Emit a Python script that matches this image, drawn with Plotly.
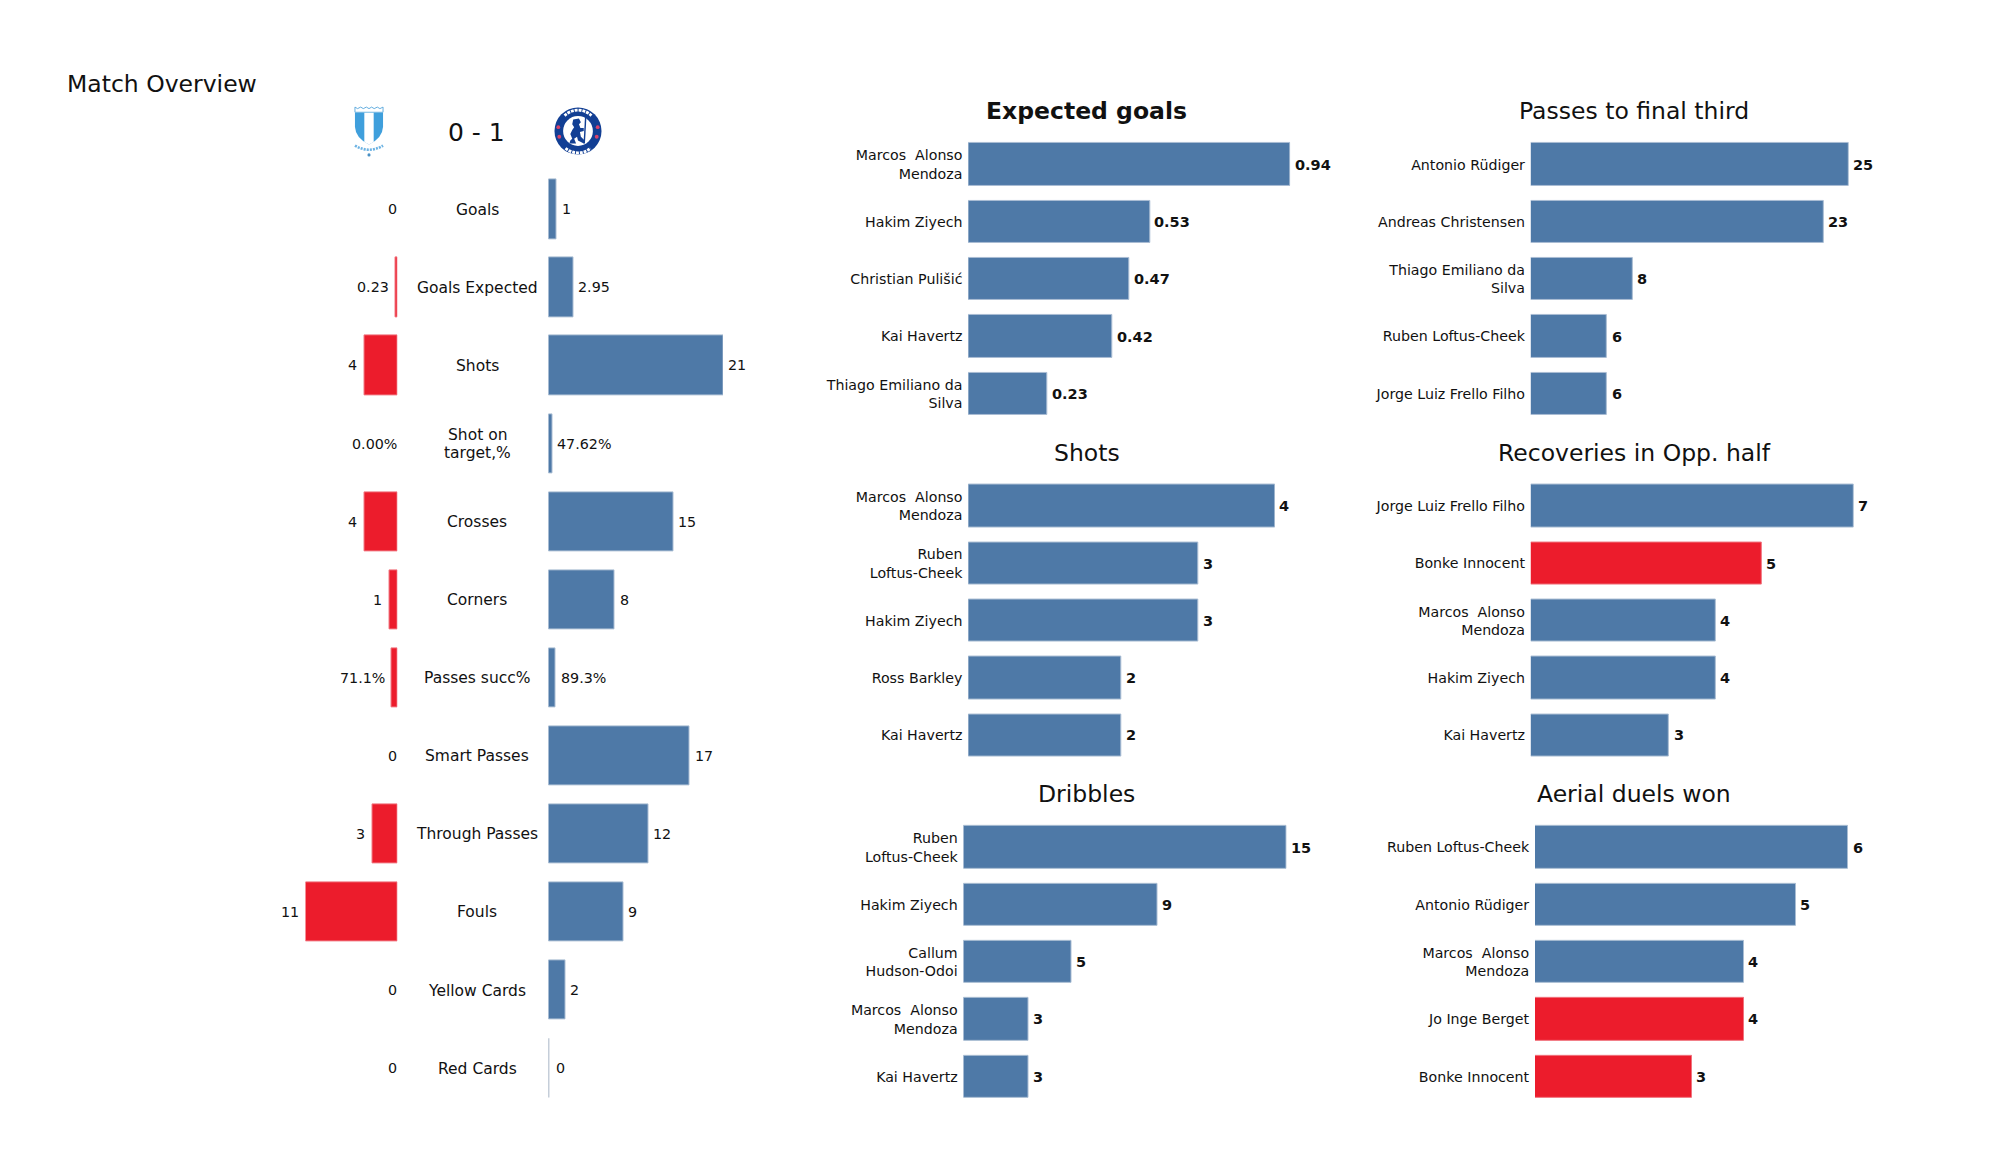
import base64
import plotly.graph_objects as go

# ---------- data ----------
overview_labels = ["Goals", "Goals Expected", "Shots", "Shot on<br>target,%", "Crosses", "Corners",
                   "Passes succ%", "Smart Passes", "Through Passes", "Fouls", "Yellow Cards", "Red Cards"]
home_values = [0, 0.23, 4, 0, 4, 1, 0.711, 0, 3, 11, 0, 0]
away_values = [1, 2.95, 21, 0.4762, 15, 8, 0.893, 17, 12, 9, 2, 0]
home_text = ["0", "0.23", "4", "0.00%", "4", "1", "71.1%", "0", "3", "11", "0", "0"]
away_text = ["1", "2.95", "21", "47.62%", "15", "8", "89.3%", "17", "12", "9", "2", "0"]

xg_names = ["Marcos\u00a0 Alonso<br>Mendoza", "Hakim Ziyech", "Christian Pulišić", "Kai Havertz", "Thiago Emiliano da<br>Silva"]
xg_values = [0.94, 0.53, 0.47, 0.42, 0.23]
xg_text = ["0.94", "0.53", "0.47", "0.42", "0.23"]
xg_home = [0, 0, 0, 0, 0]

shots_names = ["Marcos\u00a0 Alonso<br>Mendoza", "Ruben<br>Loftus-Cheek", "Hakim Ziyech", "Ross Barkley", "Kai Havertz"]
shots_values = [4, 3, 3, 2, 2]
shots_home = [0, 0, 0, 0, 0]

drib_names = ["Ruben<br>Loftus-Cheek", "Hakim Ziyech", "Callum<br>Hudson-Odoi", "Marcos\u00a0 Alonso<br>Mendoza", "Kai Havertz"]
drib_values = [15, 9, 5, 3, 3]
drib_home = [0, 0, 0, 0, 0]

final_names = ["Antonio Rüdiger", "Andreas Christensen", "Thiago Emiliano da<br>Silva", "Ruben Loftus-Cheek", "Jorge Luiz Frello Filho"]
final_values = [25, 23, 8, 6, 6]
final_home = [0, 0, 0, 0, 0]

recov_names = ["Jorge Luiz Frello Filho", "Bonke Innocent", "Marcos\u00a0 Alonso<br>Mendoza", "Hakim Ziyech", "Kai Havertz"]
recov_values = [7, 5, 4, 4, 3]
recov_home = [0, 1, 0, 0, 0]

aerial_names = ["Ruben Loftus-Cheek", "Antonio Rüdiger", "Marcos\u00a0 Alonso<br>Mendoza", "Jo Inge Berget", "Bonke Innocent"]
aerial_values = [6, 5, 4, 4, 3]
aerial_home = [0, 0, 0, 1, 1]

# ---------- style / layout ----------
W, H = 2000, 1175
BLUE, RED = "#4e79a7", "#ec1c2c"
BLUE_EDGE, RED_EDGE = "#a9bdd3", "#f0737d"
FONT = "DejaVu Sans"
INK = "#111111"

def fx(px): return px / W
def fy(px): return 1 - px / H

fig = go.Figure()
layout = dict(width=W, height=H, margin=dict(l=0, r=0, t=0, b=0), paper_bgcolor="white",
              plot_bgcolor="white", showlegend=False, font=dict(family=FONT, color=INK), bargap=0)
annotations, axis_no = [], [0]

def add_axes(x_left, x_right, x_range, y_top, y_bottom, n, names=None, label_size=14.2):
    axis_no[0] += 1
    k = axis_no[0]
    xs, ys = ("x%d" % k, "y%d" % k)
    layout["xaxis%d" % k] = dict(domain=[fx(x_left), fx(x_right)], range=x_range, visible=False,
                                 anchor=ys, fixedrange=True)
    yax = dict(domain=[fy(y_bottom), fy(y_top)], range=[n - 0.5, -0.5], anchor=xs, showgrid=False,
               zeroline=False, showline=False, fixedrange=True)
    if names:
        yax.update(tickmode="array", tickvals=list(range(n)), ticktext=names, ticks="outside", ticklen=2,
                   tickcolor="rgba(0,0,0,0)", tickfont=dict(size=label_size, family=FONT, color=INK))
    else:
        yax.update(visible=False)
    layout["yaxis%d" % k] = yax
    return xs, ys

def add_bars(xs, ys, vals, colors, edges, width):
    fig.add_trace(go.Bar(x=vals, y=list(range(len(vals))), orientation="h", xaxis=xs, yaxis=ys, width=width,
                         marker=dict(color=colors, line=dict(color=edges, width=[1 if v else 0 for v in vals])),
                         hoverinfo="skip"))

def label(xs, ys, x, y, text, anchor, shift, size=14.3, bold=False, yshift=0):
    annotations.append(dict(xref=xs, yref=ys, x=x, y=y, text="<b>%s</b>" % text if bold else text, showarrow=False,
                            xanchor=anchor, yanchor="middle", xshift=shift, yshift=yshift,
                            font=dict(size=size, family=FONT, color=INK)))

def paper_text(px, py, text, size, anchor="center", bold=False):
    annotations.append(dict(xref="paper", yref="paper", x=fx(px), y=fy(py), text="<b>%s</b>" % text if bold else text,
                            showarrow=False, xanchor=anchor, yanchor="middle",
                            font=dict(size=size, family=FONT, color=INK)))

# overview panel
ROW0, ROWSTEP = 209.4, 78.05
ov_top, ov_bot = ROW0 - ROWSTEP / 2, ROW0 + 11.5 * ROWSTEP
PPU_HOME, PPU_AWAY = 8.36, 8.31
ZERO_HOME, ZERO_AWAY = 397.5, 548.5
n = len(overview_labels)
max_home, max_away = max(home_values), max(away_values)
hx, hy = add_axes(ZERO_HOME - max_home * PPU_HOME, ZERO_HOME, [max_home, 0], ov_top, ov_bot, n)
ax, ay = add_axes(ZERO_AWAY, ZERO_AWAY + max_away * PPU_AWAY, [0, max_away], ov_top, ov_bot, n)
add_bars(hx, hy, home_values, RED, RED_EDGE, 0.76)
add_bars(ax, ay, away_values, BLUE, BLUE_EDGE, 0.76)
for i, v in enumerate(away_values):
    if v == 0:
        fig.add_trace(go.Scatter(x=[0, 0], y=[i - 0.38, i + 0.38], xaxis=ax, yaxis=ay, mode="lines",
                                 line=dict(color="#8c9db3", width=1.5), hoverinfo="skip", cliponaxis=False))
for i in range(n):
    label(hx, hy, home_values[i], i, home_text[i], "right", -5 if home_values[i] > 0 else 1)
    label(ax, ay, away_values[i], i, away_text[i], "left", 3 if away_values[i] > 0 else 5)
    parts = overview_labels[i].split("<br>")
    for j, part in enumerate(parts):
        paper_text(477, ROW0 + i * ROWSTEP + 0.6 + (j - (len(parts) - 1) / 2) * 18, part, 15.5)

# player panels
ROWS = 57.3
panels = [
    ("Expected goals", True, xg_names, xg_values, xg_home, xg_text, 968.3, 1290.3, 164.6, 111),
    ("Shots", False, shots_names, shots_values, shots_home, None, 968.3, 1274.8, 506.2, 453),
    ("Dribbles", False, drib_names, drib_values, drib_home, None, 963.5, 1286.8, 847.5, 793.5),
    ("Passes to final third", False, final_names, final_values, final_home, None, 1530.8, 1848.8, 164.6, 111),
    ("Recoveries in Opp. half", False, recov_names, recov_values, recov_home, None, 1530.8, 1853.8, 506.2, 453),
    ("Aerial duels won", False, aerial_names, aerial_values, aerial_home, None, 1535.0, 1848.0, 847.5, 793.5),
]
for title, bold, names, vals, flags, texts, x0, x1, c0, ty in panels:
    m = len(vals)
    xs, ys = add_axes(x0, x1, [0, max(vals)], c0 - ROWS / 2, c0 + (m - 0.5) * ROWS, m, names)
    add_bars(xs, ys, vals, [RED if f else BLUE for f in flags], [RED_EDGE if f else BLUE_EDGE for f in flags], 0.74)
    for i, v in enumerate(vals):
        label(xs, ys, v, i, texts[i] if texts else str(v), "left", 2.5, size=14.5, bold=True)
    paper_text((1086.5 if x0 < 1200 else 1634), ty, title, 23.5, bold=bold)

paper_text(65, 84, "Match Overview", 23.5, anchor="left")
paper_text(476, 132, "0 - 1", 25)

# ---------- crests (decorative) ----------
malmo = """<svg xmlns='http://www.w3.org/2000/svg' viewBox='0 0 64 100'>
<path d='M5 4 l0 10 l54 0 l0 -10 l-6 3 l-5 -3 l-6 3 l-5 -3 l-5 3 l-5 -3 l-6 3 l-5 -3 l-6 3z' fill='#fff' stroke='#5aa8dd' stroke-width='1.8'/>
<path d='M5 15 L59 15 L59 42 Q58 64 32 76 Q6 64 5 42 Z' fill='#3f9fdc'/>
<path d='M23 15 L41 15 L41 71 L32 76 L23 71 Z' fill='#fff'/>
<path d='M5 78 Q32 94 59 78' fill='none' stroke='#6db3e3' stroke-width='5' stroke-dasharray='4 2'/>
<circle cx='32' cy='96' r='3' fill='#4a90c4'/></svg>"""
chelsea = """<svg xmlns='http://www.w3.org/2000/svg' viewBox='0 0 100 100'>
<circle cx='50' cy='50' r='49' fill='#123f94'/>
<path d='M22 18 A40 40 0 0 1 78 18 M24 86 A40 40 0 0 0 76 86' fill='none' stroke='#fff' stroke-width='6' stroke-dasharray='6 2'/>
<circle cx='50' cy='50' r='31' fill='#fff'/>
<circle cx='9' cy='42' r='4' fill='#d8436b'/><circle cx='91' cy='42' r='4' fill='#d8436b'/>
<circle cx='11' cy='62' r='4' fill='#d8436b'/><circle cx='89' cy='62' r='4' fill='#d8436b'/>
<path d='M66 22 L63 76' stroke='#123f94' stroke-width='3'/>
<path d='M40 26 L52 24 L56 32 L52 36 L55 44 L62 44 L62 50 L54 52 L56 62 L64 70 L62 76 L50 70 L48 62 L42 66 L46 76 L32 76 L34 70 L38 66 L34 56 L38 48 L42 42 L38 36 Z' fill='#123f94'/></svg>"""
def uri(s): return "data:image/svg+xml;base64," + base64.b64encode(s.encode()).decode()
layout["images"] = [
    dict(source=uri(malmo), xref="paper", yref="paper", x=fx(352), y=fy(105), sizex=34 / W, sizey=52 / H,
         xanchor="left", yanchor="top", sizing="contain", layer="above"),
    dict(source=uri(chelsea), xref="paper", yref="paper", x=fx(554), y=fy(107), sizex=48 / W, sizey=48 / H,
         xanchor="left", yanchor="top", sizing="contain", layer="above"),
]
layout["annotations"] = annotations
fig.update_layout(**layout)
fig.write_html("out.html", config=dict(displayModeBar=False),
               post_script="document.body.style.margin='0';document.documentElement.style.overflow='hidden';")
